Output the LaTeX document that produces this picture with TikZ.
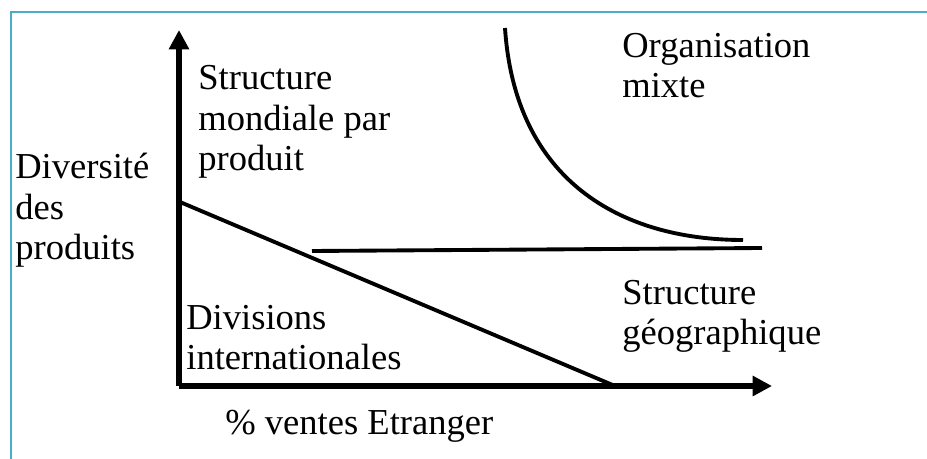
\documentclass[tikz,border=0pt]{standalone}
\usepackage{fontspec}
\setmainfont{Liberation Serif}
\usetikzlibrary{arrows.meta}
\definecolor{framecyan}{RGB}{75,172,198}

\begin{document}
\begin{tikzpicture}[x=0.02cm, y=-0.02cm,
  axis/.style={line width=3.2pt, -{Triangle[length=11pt, width=11pt]}},
  trait/.style={line width=2.2pt},
  lbl/.style={anchor=base west, align=left, inner sep=0pt,
              font=\fontsize{20.8}{23.2}\selectfont,
              execute at begin node={\setlength{\baselineskip}{23.2pt}}}]
  \useasboundingbox (0,0) rectangle (927,459);

  % Frame
  \draw[framecyan, line width=1.7pt] (11,12) rectangle (960,490);

  % Axes
  \coordinate (orig) at (179,386);
  \coordinate (ytip) at (179,30);
  \coordinate (xtip) at (772,386);
  \draw[axis] (orig) -- (ytip);
  \draw[axis] (orig) -- (xtip);

  % Boundaries
  \coordinate (diagA) at (180,202);
  \coordinate (diagB) at (615,386);
  \coordinate (horA) at (312,251);
  \coordinate (horB) at (762,248);
  \coordinate (curveA) at (505,28);
  \coordinate (curveB) at (743,240);
  \draw[trait] (diagA) -- (diagB);
  \draw[trait] (horA) -- (horB);
  \draw[trait] (curveA) .. controls (515,180) and (620,240) .. (curveB);

  % Labels
  \node[lbl] (divers) at (15,260)  {Diversité\\des\\produits};
  \node[lbl] (mondial) at (198,171) {Structure\\mondiale par\\produit};
  \node[lbl] (mixte) at (622,98)   {Organisation\\mixte};
  \node[lbl] (divint) at (186,370) {Divisions\\internationales};
  \node[lbl] (geo) at (622,345)    {Structure\\géographique};
  \node[lbl] (ventes) at (225,435) {\% ventes Etranger};
\end{tikzpicture}
\end{document}
